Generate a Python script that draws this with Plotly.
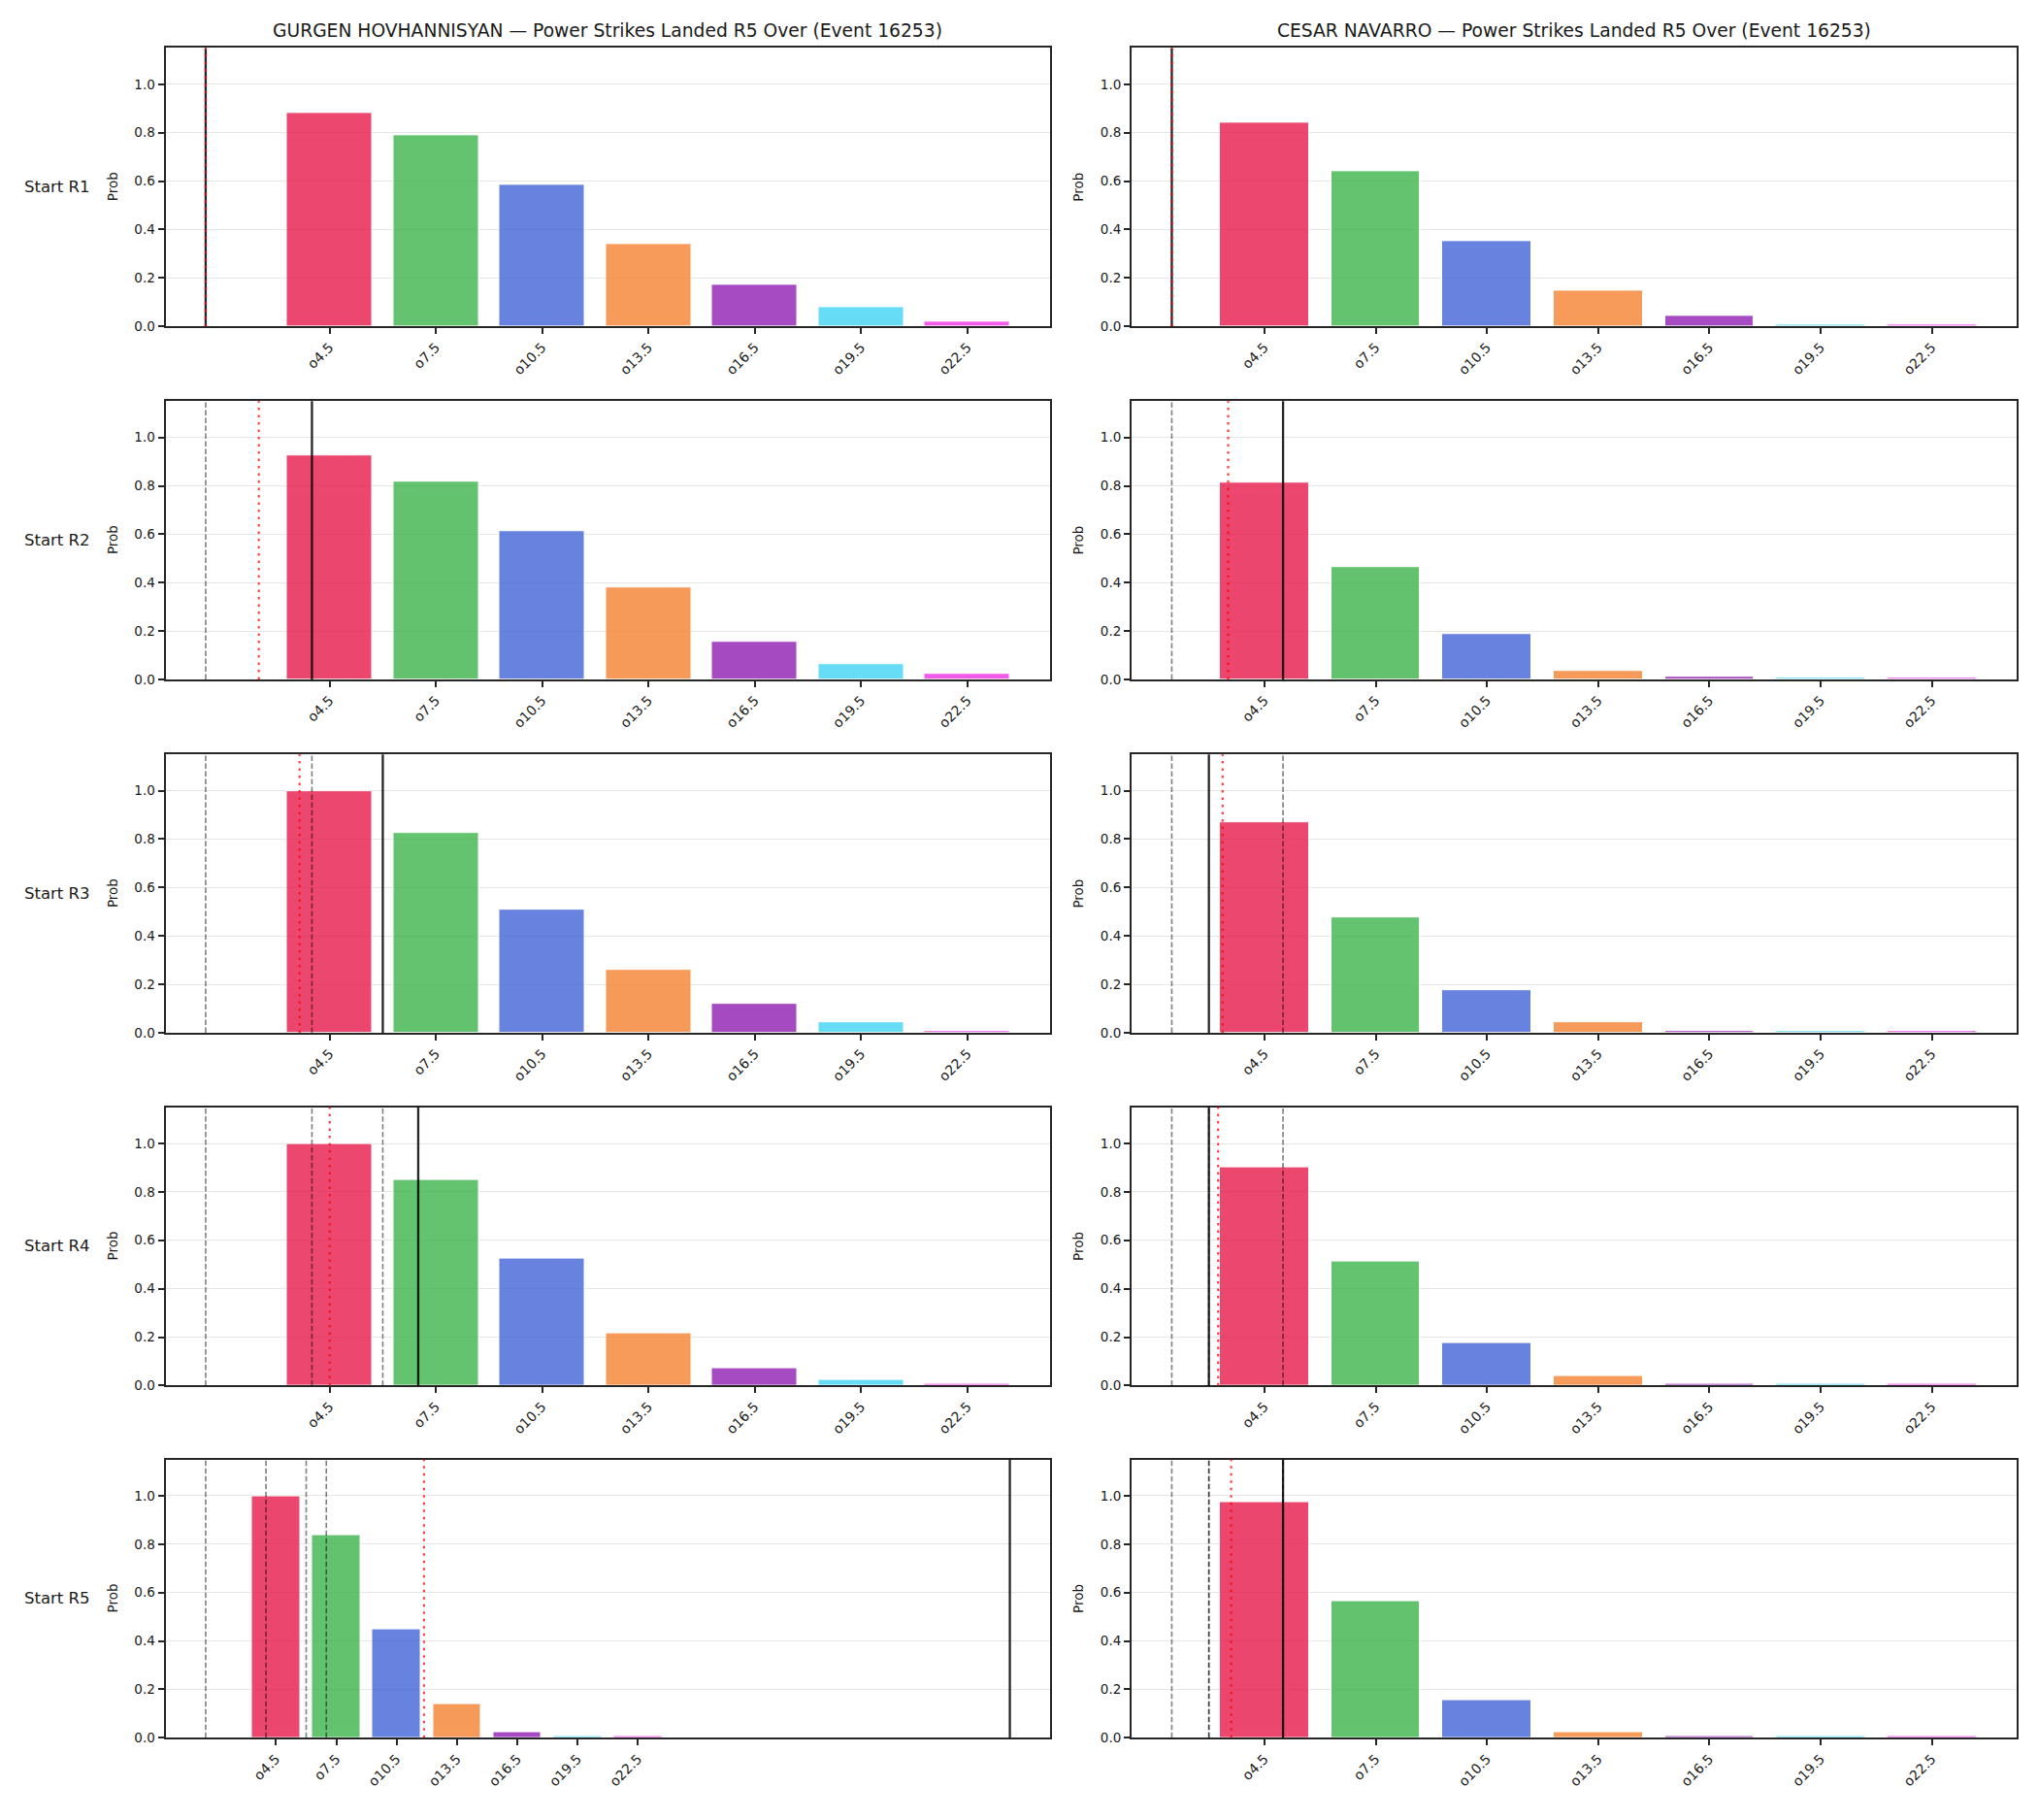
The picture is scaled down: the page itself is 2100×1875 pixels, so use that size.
import plotly.graph_objects as go

# ---------------- data ----------------
fighters = ["GURGEN HOVHANNISYAN", "CESAR NAVARRO"]
market_name = "Power Strikes Landed R5 Over"
event_id = 16253
thresholds = [4.5, 7.5, 10.5, 13.5, 16.5, 19.5, 22.5]
tick_labels = ["o4.5", "o7.5", "o10.5", "o13.5", "o16.5", "o19.5", "o22.5"]
round_labels = ["Start R1", "Start R2", "Start R3", "Start R4", "Start R5"]
bar_colors = ["#e6194b", "#3cb44b", "#4363d8", "#f58231", "#911eb4", "#42d4f4", "#f032e6"]

gurgen_probs = [
    [0.880, 0.790, 0.585, 0.340, 0.172, 0.079, 0.019],
    [0.925, 0.817, 0.612, 0.380, 0.155, 0.063, 0.023],
    [0.997, 0.825, 0.508, 0.259, 0.120, 0.043, 0.007],
    [0.997, 0.849, 0.524, 0.215, 0.071, 0.023, 0.007],
    [0.997, 0.837, 0.448, 0.139, 0.023, 0.006, 0.006],
]
cesar_probs = [
    [0.841, 0.640, 0.353, 0.147, 0.043, 0.006, 0.006],
    [0.813, 0.464, 0.187, 0.036, 0.011, 0.006, 0.006],
    [0.869, 0.476, 0.175, 0.043, 0.007, 0.006, 0.006],
    [0.901, 0.512, 0.175, 0.039, 0.007, 0.006, 0.006],
    [0.975, 0.564, 0.155, 0.023, 0.007, 0.006, 0.006],
]
# vertical markers (in strike units) at the start of each round
gurgen_actual = [1.0, 4.0, 6.0, 7.0, 41.0]
gurgen_proj = [1.0, 2.5, 3.65, 4.5, 11.86]
cesar_actual = [2.0, 5.0, 3.0, 3.0, 5.0]
cesar_proj = [2.0, 3.52, 3.37, 3.25, 3.6]

probs_all = [gurgen_probs, cesar_probs]
actual_all = [gurgen_actual, cesar_actual]
proj_all = [gurgen_proj, cesar_proj]

# ---------------- layout geometry ----------------
W, H = 2100, 1875
col_px = [(170.5, 1082.0), (1166.0, 2078.0)]
row_top = [49.6, 415.0, 780.5, 1145.5, 1510.0]
row_h = 288.0
bar_width = 2.4
FONT = "DejaVu Sans"
TXT = "#1a1a1a"
SPINE = "#262626"

fig = go.Figure()
layout = dict(
    width=W, height=H,
    margin=dict(l=0, r=0, t=0, b=0),
    paper_bgcolor="white", plot_bgcolor="white",
    showlegend=False,
    font=dict(family=FONT, color=TXT, size=14),
    bargap=0,
)
shapes = []
annotations = []

for r in range(5):
    y0 = 1 - (row_top[r] + row_h) / H
    y1 = 1 - row_top[r] / H
    for c in range(2):
        n = r * 2 + c + 1
        xs = "" if n == 1 else str(n)
        xa, ya = "x" + xs, "y" + xs
        probs = probs_all[c][r]
        fig.add_trace(go.Bar(
            x=thresholds, y=probs, width=bar_width,
            marker=dict(color=bar_colors, opacity=0.8,
                        line=dict(color="white", width=1)),
            xaxis=xa, yaxis=ya, hoverinfo="skip",
        ))
        actual = actual_all[c]
        proj = proj_all[c]
        markers = list(actual[:r + 1]) + [proj[r]]
        lo = min(thresholds[0] - bar_width / 2, min(markers))
        hi = max(thresholds[-1] + bar_width / 2, max(markers))
        pad = 0.05 * (hi - lo)
        d0, d1 = col_px[c][0] / W, col_px[c][1] / W
        layout["xaxis" + xs] = dict(
            domain=[d0, d1], anchor=ya, range=[lo - pad, hi + pad],
            tickmode="array", tickvals=thresholds, ticktext=tick_labels,
            tickangle=-45, ticks="outside", ticklen=6, tickwidth=1.5,
            tickcolor=SPINE, showline=True, linecolor=SPINE, linewidth=2,
            mirror=True, showgrid=False, zeroline=False,
            tickfont=dict(family=FONT, size=14, color=TXT),
        )
        layout["yaxis" + xs] = dict(
            domain=[y0, y1], anchor=xa, range=[0, 1.15],
            tickmode="array", tickvals=[0, 0.2, 0.4, 0.6, 0.8, 1.0],
            ticktext=["0.0", "0.2", "0.4", "0.6", "0.8", "1.0"],
            ticks="outside", ticklen=6, tickwidth=1.5, tickcolor=SPINE,
            showline=True, linecolor=SPINE, linewidth=2, mirror=True,
            showgrid=True, gridcolor="#e6e6e6", gridwidth=1, zeroline=False,
            tickfont=dict(family=FONT, size=13.5, color=TXT),
        )
        # previous-round markers (dashed)
        for v in actual[:r]:
            shapes.append(dict(type="line", xref=xa, yref=ya + " domain",
                               x0=v, x1=v, y0=0, y1=1, layer="above",
                               line=dict(color="rgba(0,0,0,0.5)", width=1.6,
                                         dash="5.5px,2.5px")))
        # current marker (solid)
        shapes.append(dict(type="line", xref=xa, yref=ya + " domain",
                           x0=actual[r], x1=actual[r], y0=0, y1=1, layer="above",
                           line=dict(color="rgba(0,0,0,0.85)", width=2.3)))
        # projection (dotted red)
        shapes.append(dict(type="line", xref=xa, yref=ya + " domain",
                           x0=proj[r], x1=proj[r], y0=0, y1=1, layer="above",
                           line=dict(color="rgba(255,0,0,0.75)", width=2.2,
                                     dash="2.5px,5px")))
        # "Prob" label
        px_lab = col_px[c][0] - 55
        annotations.append(dict(
            text="Prob", xref="paper", yref="paper",
            x=px_lab / W, y=(y0 + y1) / 2, xanchor="center", yanchor="middle",
            textangle=-90, showarrow=False,
            font=dict(family=FONT, size=13.5, color=TXT)))
        if r == 0:
            annotations.append(dict(
                text=f"{fighters[c]} \u2014 {market_name} (Event {event_id})",
                xref="paper", yref="paper", x=(d0 + d1) / 2, y=y1,
                xanchor="center", yanchor="bottom", yshift=5, showarrow=False,
                font=dict(family=FONT, size=18.7, color=TXT)))
    annotations.append(dict(
        text=round_labels[r], xref="paper", yref="paper",
        x=23 / W, y=(y0 + y1) / 2, xanchor="left", yanchor="middle",
        showarrow=False, font=dict(family=FONT, size=16.5, color=TXT)))

layout["shapes"] = shapes
layout["annotations"] = annotations
fig.update_layout(**layout)
fig.write_html("out.html")
